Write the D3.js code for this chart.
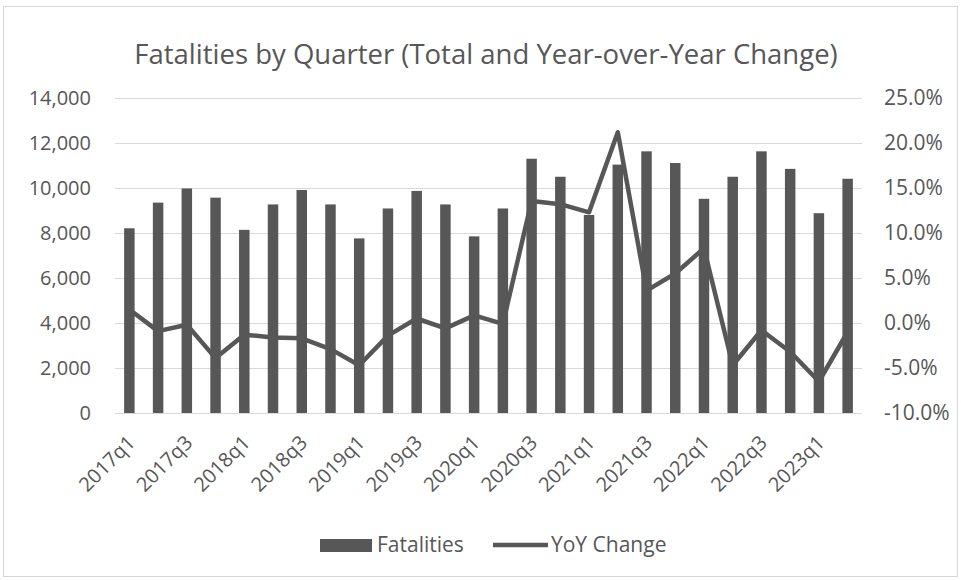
<!DOCTYPE html>
<html>
<head>
  <title>Fatalities by Quarter</title>
  <script src="https://cdnjs.cloudflare.com/ajax/libs/d3/7.8.5/d3.min.js"></script>
  <style>
  body { margin: 0; background: #fff; }
  svg { display: block; }
  </style>
</head>
<body>
  <script>

var quarters = ["2017q1", "2017q2", "2017q3", "2017q4",
                "2018q1", "2018q2", "2018q3", "2018q4",
                "2019q1", "2019q2", "2019q3", "2019q4",
                "2020q1", "2020q2", "2020q3", "2020q4",
                "2021q1", "2021q2", "2021q3", "2021q4",
                "2022q1", "2022q2", "2022q3", "2022q4",
                "2023q1", "2023q2"];

var fatalities = [8210, 9350, 9980, 9570, 8140, 9270, 9910, 9270,
                  7760, 9090, 9870, 9270, 7850, 9090, 11300, 10500,
                  8800, 11040, 11630, 11110, 9520, 10500, 11630, 10850,
                  8880, 10410];

// year-over-year change, percent
var yoyChange = [1.5, -0.9, -0.2, -3.9, -1.3, -1.6, -1.7, -2.9,
                 -4.7, -1.4, 0.5, -0.6, 0.85, -0.1, 13.55, 13.2,
                 12.3, 21.2, 3.6, 5.5, 8.3, -4.7, -0.8, -3.2,
                 -6.5, -1.0];

var leftTicks = [0, 2000, 4000, 6000, 8000, 10000, 12000, 14000];
var rightTicks = [-10, -5, 0, 5, 10, 15, 20, 25];

var width = 961;
var height = 580;
var MARGINS = {left: 115, top: 98, right: 99, bottom: 165};
var grey = "#575757";
var fontFamily = "'Open Sans', sans-serif";

var svg = d3.select("body").append("svg")
        .attr("width", width)
        .attr("height", height);

svg.append("rect")
        .attr("x", 3.5).attr("y", 6.5)
        .attr("width", width - 7).attr("height", height - 10)
        .attr("fill", "none")
        .attr("stroke", "#d6d6d6");

var xScale = d3.scaleBand()
        .domain(quarters)
        .range([MARGINS.left, width - MARGINS.right])
        .paddingInner(0.635)
        .paddingOuter(0.3175);

var yScale = d3.scaleLinear()
        .domain([0, 14000])
        .range([height - MARGINS.bottom - 2, MARGINS.top]);

var y2Scale = d3.scaleLinear()
        .domain([-10, 25])
        .range([height - MARGINS.bottom - 2, MARGINS.top]);

// gridlines
svg.append("g")
        .selectAll("line")
        .data(leftTicks)
        .join("line")
        .attr("x1", MARGINS.left)
        .attr("x2", width - MARGINS.right)
        .attr("y1", d => Math.round(yScale(d)) + 0.5)
        .attr("y2", d => Math.round(yScale(d)) + 0.5)
        .attr("stroke", "#d9d9d9")
        .attr("stroke-width", 1);

// left axis
var yAxis = d3.axisLeft(yScale)
        .tickValues(leftTicks)
        .tickSize(0)
        .tickPadding(0)
        .tickFormat(d3.format(","));

var yAxisGroup = svg.append("g")
        .attr("transform", "translate(91, 0)")
        .call(yAxis);
yAxisGroup.select(".domain").remove();
yAxisGroup.selectAll("text")
        .attr("font-family", fontFamily)
        .attr("font-size", "20px")
        .attr("fill", grey);

// right axis
var y2Axis = d3.axisRight(y2Scale)
        .tickValues(rightTicks)
        .tickSize(0)
        .tickPadding(0)
        .tickFormat(d => d3.format(".1f")(d).replace("−", "-") + "%");

var y2AxisGroup = svg.append("g")
        .attr("transform", "translate(884, 0)")
        .call(y2Axis);
y2AxisGroup.select(".domain").remove();
y2AxisGroup.selectAll("text")
        .attr("font-family", fontFamily)
        .attr("font-size", "21px")
        .attr("fill", grey);

// bars
svg.append("g")
        .selectAll("rect")
        .data(fatalities)
        .join("rect")
        .attr("x", (d, i) => xScale(quarters[i]))
        .attr("y", d => yScale(d))
        .attr("width", xScale.bandwidth())
        .attr("height", d => yScale(0) - yScale(d))
        .attr("fill", grey);

// yoy line
var line = d3.line()
        .x((d, i) => xScale(quarters[i]) + xScale.bandwidth() / 2)
        .y(d => y2Scale(d));

svg.append("path")
        .datum(yoyChange)
        .attr("d", line)
        .attr("fill", "none")
        .attr("stroke", grey)
        .attr("stroke-width", 4.5)
        .attr("stroke-linejoin", "round");

// x axis labels, every other quarter
var xAxis = d3.axisBottom(xScale)
        .tickValues(quarters.filter((q, i) => i % 2 === 0))
        .tickSize(0)
        .tickPadding(0);

var xAxisGroup = svg.append("g")
        .attr("transform", "translate(0," + (yScale(0) + 26) + ")")
        .call(xAxis);
xAxisGroup.select(".domain").remove();
xAxisGroup.selectAll("text")
        .attr("font-family", fontFamily)
        .attr("font-size", "20px")
        .attr("fill", grey)
        .attr("text-anchor", "end")
        .attr("dy", "0.35em")
        .attr("transform", "translate(2,0) rotate(-45)");

// title
svg.append("text")
        .attr("x", 486)
        .attr("y", 64)
        .attr("text-anchor", "middle")
        .attr("font-family", fontFamily)
        .attr("font-size", "27.5px")
        .attr("fill", grey)
        .text("Fatalities by Quarter (Total and Year-over-Year Change)");

// legend
var legend = svg.append("g");
legend.append("rect")
        .attr("x", 320).attr("y", 539)
        .attr("width", 52).attr("height", 13)
        .attr("fill", grey);
legend.append("text")
        .attr("x", 377).attr("y", 545)
        .attr("dy", "0.35em")
        .attr("font-family", fontFamily)
        .attr("font-size", "21px")
        .attr("fill", grey)
        .text("Fatalities");
legend.append("line")
        .attr("x1", 493).attr("x2", 548)
        .attr("y1", 545).attr("y2", 545)
        .attr("stroke", grey)
        .attr("stroke-width", 4.5);
legend.append("text")
        .attr("x", 551).attr("y", 545)
        .attr("dy", "0.35em")
        .attr("font-family", fontFamily)
        .attr("font-size", "21px")
        .attr("fill", grey)
        .text("YoY Change");

  </script>
</body>
</html>
